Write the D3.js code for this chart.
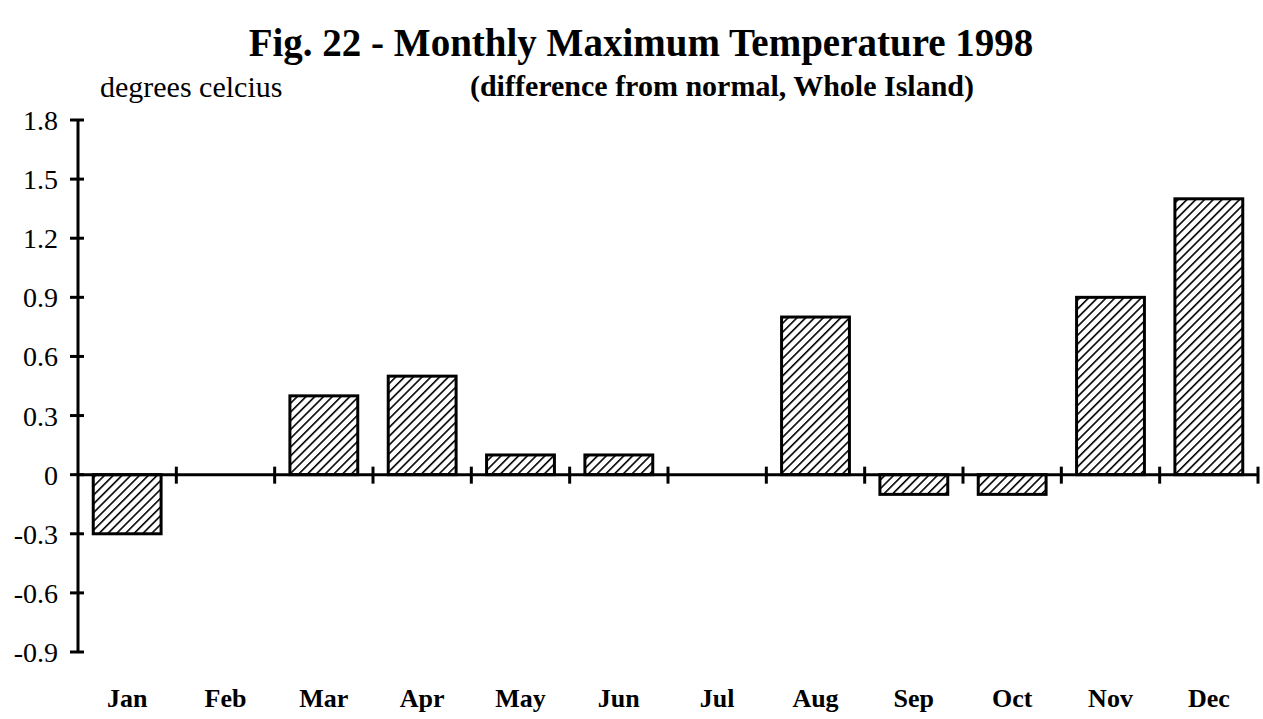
<!DOCTYPE html>
<html><head><meta charset="utf-8">
<script src="https://cdn.jsdelivr.net/npm/d3@7"></script>
<style>body{margin:0;background:#fff}</style>
</head><body>
<svg id="c" width="1263" height="719"></svg>
<script>
const months = ["Jan","Feb","Mar","Apr","May","Jun","Jul","Aug","Sep","Oct","Nov","Dec"];
const values = [-0.3, 0, 0.4, 0.5, 0.1, 0.1, 0, 0.8, -0.1, -0.1, 0.9, 1.4];
const yTicks = [-0.9,-0.6,-0.3,0,0.3,0.6,0.9,1.2,1.5,1.8];
const yTickLabels = ["-0.9","-0.6","-0.3","0","0.3","0.6","0.9","1.2","1.5","1.8"];
const title = "Fig. 22 - Monthly Maximum Temperature 1998";
const subtitle = "(difference from normal, Whole Island)";
const yLabel = "degrees celcius";

const FONT = "'Liberation Serif', 'Times New Roman', Times, serif";
const svg = d3.select("#c");
const defs = svg.append("defs");
const pat = defs.append("pattern").attr("id","hatch").attr("patternUnits","userSpaceOnUse")
  .attr("width",6.2).attr("height",6.2).attr("patternTransform","rotate(45)");
pat.append("rect").attr("width",6.2).attr("height",6.2).attr("fill","#fff");
pat.append("line").attr("x1",0).attr("y1",0).attr("x2",0).attr("y2",6.2).attr("stroke","#000").attr("stroke-width",3.2);

const x = d3.scaleBand().domain(months).range([78,1258]).paddingInner(0.31).paddingOuter(0.155);
const y = d3.scaleLinear().domain([-0.9,1.8]).range([652,120]);

function stext(g, tx, ty, str, anchor, size, weight){
  return g.append("text").attr("x",tx).attr("y",ty)
    .attr("font-family",FONT).attr("fill","#000")
    .attr("text-anchor",anchor).attr("font-size",size).attr("font-weight",weight||"normal").text(str);
}

// bars
svg.append("g").selectAll("rect").data(values.map((v,i)=>({m:months[i],v})).filter(d=>d.v!==0)).join("rect")
  .attr("x",d=>x(d.m)).attr("width",x.bandwidth())
  .attr("y",d=>y(Math.max(0,d.v))).attr("height",d=>Math.abs(y(d.v)-y(0)))
  .attr("fill","url(#hatch)").attr("stroke","#000").attr("stroke-width",3);

// y axis
const ya = svg.append("g");
ya.append("line").attr("x1",78).attr("x2",78).attr("y1",y(1.8)).attr("y2",y(-0.9)).attr("stroke","#000").attr("stroke-width",3);
yTicks.forEach((v,i)=>{
  ya.append("line").attr("x1",70).attr("x2",84).attr("y1",y(v)).attr("y2",y(v)).attr("stroke","#000").attr("stroke-width",3);
  stext(ya,58,y(v)+10,yTickLabels[i],"end",28);
});

// x axis at zero
const xa = svg.append("g");
xa.append("line").attr("x1",78).attr("x2",1258).attr("y1",y(0)).attr("y2",y(0)).attr("stroke","#000").attr("stroke-width",3);
months.forEach((m,i)=>{
  const bx = x(m) + x.bandwidth() + x.step()*x.paddingInner()/2;
  xa.append("line").attr("x1",bx).attr("x2",bx).attr("y1",y(0)-8).attr("y2",y(0)+9).attr("stroke","#000").attr("stroke-width",3);
  stext(xa,x(m)+x.bandwidth()/2,707,m,"middle",26,"bold");
});

stext(svg,641,56,title,"middle",39,"bold");
stext(svg,722,96,subtitle,"middle",30,"bold");
stext(svg,100,97,yLabel,"start",30);
</script>
</body></html>
